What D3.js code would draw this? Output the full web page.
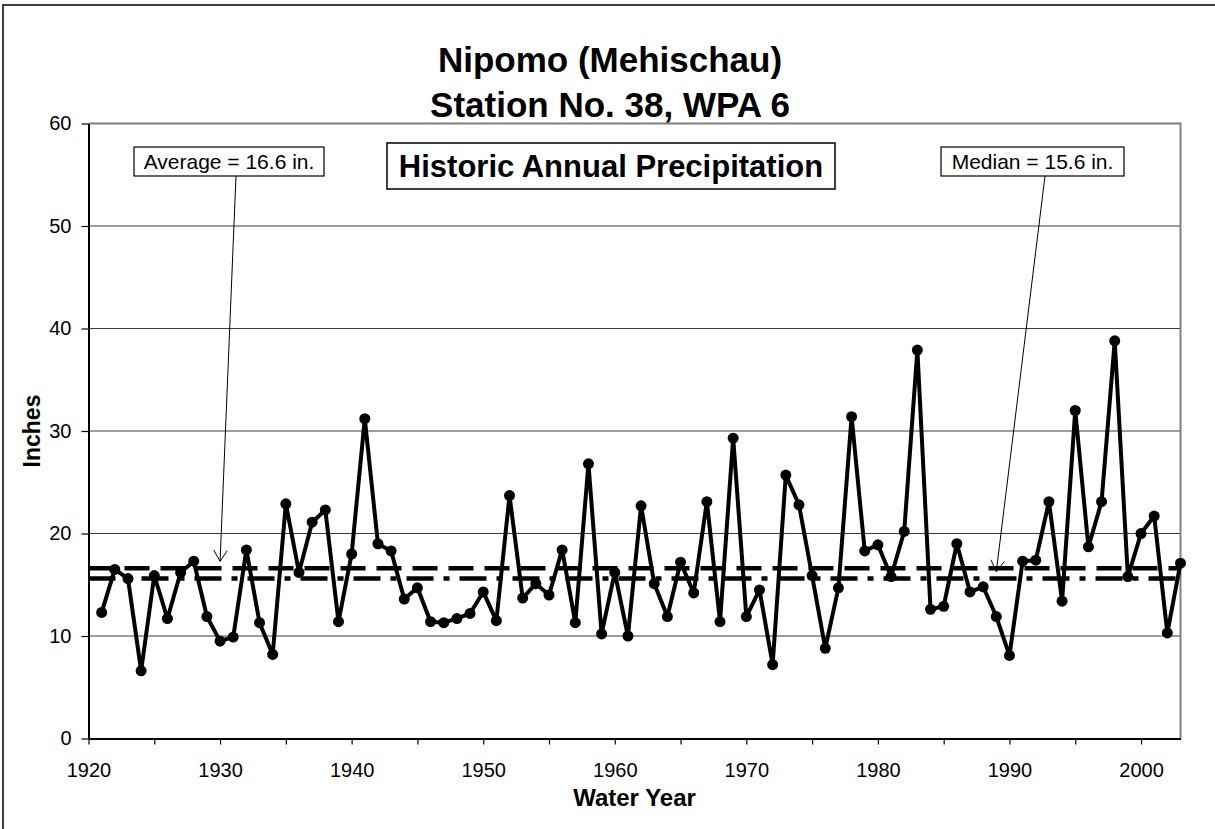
<!DOCTYPE html>
<html>
<head>
<meta charset="utf-8">
<script src="https://cdn.jsdelivr.net/npm/d3@7"></script>
<style>
  body { margin: 0; background: #fff; }
  svg { display: block; }
  text { font-family: "Liberation Sans", Arial, sans-serif; fill: #000; }
</style>
</head>
<body>
<svg id="chart" width="1215" height="829"></svg>
<script>
// water years 1921..2003, annual precipitation in inches
const firstYear = 1921;
const precip = [
  12.3, 16.5, 15.6, 6.6, 15.9, 11.7, 16.2, 17.3, 11.9, 9.5,
  9.9, 18.4, 11.3, 8.2, 22.9, 16.2, 21.1, 22.3, 11.4, 18.0,
  31.2, 19.0, 18.3, 13.6, 14.7, 11.4, 11.3, 11.7, 12.2, 14.3,
  11.5, 23.7, 13.7, 15.1, 14.0, 18.4, 11.3, 26.8, 10.2, 16.2,
  10.0, 22.7, 15.1, 11.9, 17.2, 14.2, 23.1, 11.4, 29.3, 11.9,
  14.5, 7.2, 25.7, 22.8, 15.9, 8.8, 14.7, 31.4, 18.3, 18.9,
  15.8, 20.2, 37.9, 12.6, 12.9, 19.0, 14.3, 14.8, 11.9, 8.1,
  17.3, 17.4, 23.1, 13.4, 32.0, 18.7, 23.1, 38.8, 15.8, 20.0,
  21.7, 10.3, 17.1
];
const average = 16.6;
const median = 15.6;
const averageLabel = "Average = 16.6 in.";
const medianLabel = "Median = 15.6 in.";
const averageYear = 1930;   // where the average arrow points
const medianYear = 1989;    // where the median arrow points
const xDomain = [1920, 2003];
const xTicks = [1920, 1925, 1930, 1935, 1940, 1945, 1950, 1955, 1960, 1965, 1970,
                1975, 1980, 1985, 1990, 1995, 2000];
const yTicks = [0, 10, 20, 30, 40, 50, 60];
const titleLines = ["Nipomo (Mehischau)", "Station No. 38, WPA 6"];
const subtitle = "Historic Annual Precipitation";

const data = precip.map((v, i) => ({ year: firstYear + i, value: v }));

const svg = d3.select("#chart");
const plotL = 88.5, plotR = 1180.5, plotT = 123.5, plotB = 738.5;

const x = d3.scaleLinear().domain(xDomain).range([plotL, plotR]);
const y = d3.scaleLinear().domain([0, 60]).range([plotB, plotT]);

// outer chart border
svg.append("rect")
  .attr("x", 3).attr("y", 5).attr("width", 1230).attr("height", 840)
  .attr("fill", "none").attr("stroke", "#000").attr("stroke-width", 1.5);

// gridlines
svg.append("g")
  .selectAll("line")
  .data(yTicks.filter(d => d > 0 && d < 60))
  .join("line")
  .attr("x1", plotL).attr("x2", plotR)
  .attr("y1", d => y(d)).attr("y2", d => y(d))
  .attr("stroke", "#3a3a3a").attr("stroke-width", 1);

// plot frame top / right
svg.append("path")
  .attr("d", `M${plotL},${plotT}H${plotR}V${plotB}`)
  .attr("fill", "none").attr("stroke", "#808080").attr("stroke-width", 2);

// axes
const yAxis = svg.append("g")
  .attr("transform", `translate(${plotL},0)`)
  .call(d3.axisLeft(y).tickValues(yTicks).tickSize(7).tickSizeOuter(0).tickPadding(10));
yAxis.selectAll("text").style("font-size", "20px");

const xAxis = svg.append("g")
  .attr("transform", `translate(0,${plotB})`)
  .call(d3.axisBottom(x).tickValues(xTicks).tickSize(6).tickSizeOuter(0).tickPadding(18)
    .tickFormat(d => d % 10 === 0 ? d : ""));
xAxis.selectAll("text").style("font-size", "20px");

[yAxis, xAxis].forEach(g => {
  g.select(".domain").attr("stroke", "#000").attr("stroke-width", 2);
  g.selectAll(".tick line").attr("stroke", "#000").attr("stroke-width", 1.2);
});

// average and median reference lines
svg.append("line")
  .attr("x1", plotL).attr("x2", plotR)
  .attr("y1", y(average)).attr("y2", y(average))
  .attr("stroke", "#000").attr("stroke-width", 4.5)
  .attr("stroke-dasharray", "25 11");
svg.append("line")
  .attr("x1", plotL).attr("x2", plotR)
  .attr("y1", y(median)).attr("y2", y(median))
  .attr("stroke", "#000").attr("stroke-width", 4.5)
  .attr("stroke-dasharray", "27 10 6 10");

// precipitation series
const line = d3.line().x(d => x(d.year)).y(d => y(d.value));
svg.append("path")
  .datum(data)
  .attr("d", line)
  .attr("fill", "none").attr("stroke", "#000").attr("stroke-width", 4)
  .attr("stroke-linejoin", "round");
svg.append("g")
  .selectAll("circle")
  .data(data)
  .join("circle")
  .attr("cx", d => x(d.year)).attr("cy", d => y(d.value))
  .attr("r", 5.5).attr("fill", "#000");

// titles
svg.selectAll(".title")
  .data(titleLines)
  .join("text")
  .attr("class", "title")
  .attr("x", 610).attr("y", (d, i) => 72 + i * 45)
  .attr("text-anchor", "middle")
  .style("font-size", "35px").style("font-weight", "bold")
  .text(d => d);

svg.append("rect")
  .attr("x", 387).attr("y", 143).attr("width", 448).attr("height", 46)
  .attr("fill", "#fff").attr("stroke", "#000").attr("stroke-width", 1.5);
svg.append("text")
  .attr("x", 611).attr("y", 177)
  .attr("text-anchor", "middle")
  .style("font-size", "31px").style("font-weight", "bold")
  .text(subtitle);

// callouts
function callout(label, bx, bw, value, year, startX) {
  const by = 147, bh = 29;
  const tipX = x(year), tipY = y(value) - 7;
  svg.append("line")
    .attr("x1", startX).attr("y1", by + bh)
    .attr("x2", tipX).attr("y2", tipY)
    .attr("stroke", "#000").attr("stroke-width", 1);
  const ang = Math.atan2(tipY - (by + bh), tipX - startX);
  const len = 13, spread = 0.55;
  const a1 = ang + Math.PI - spread, a2 = ang + Math.PI + spread;
  svg.append("path")
    .attr("d", `M${tipX + len * Math.cos(a1)},${tipY + len * Math.sin(a1)}L${tipX},${tipY}L${tipX + len * Math.cos(a2)},${tipY + len * Math.sin(a2)}`)
    .attr("fill", "none").attr("stroke", "#000").attr("stroke-width", 1);
  svg.append("rect")
    .attr("x", bx).attr("y", by).attr("width", bw).attr("height", bh)
    .attr("fill", "#fff").attr("stroke", "#000").attr("stroke-width", 1.2);
  svg.append("text")
    .attr("x", bx + bw / 2).attr("y", by + 22)
    .attr("text-anchor", "middle")
    .style("font-size", "21px")
    .text(label);
}
callout(averageLabel, 134, 190, average, averageYear, 236);
callout(medianLabel, 941, 183, median, medianYear, 1045);

// axis titles
svg.append("text")
  .attr("transform", "translate(40,431) rotate(-90)")
  .attr("text-anchor", "middle")
  .style("font-size", "23px").style("font-weight", "bold")
  .text("Inches");
svg.append("text")
  .attr("x", (plotL + plotR) / 2).attr("y", 806)
  .attr("text-anchor", "middle")
  .style("font-size", "24px").style("font-weight", "bold")
  .text("Water Year");
</script>
</body>
</html>
